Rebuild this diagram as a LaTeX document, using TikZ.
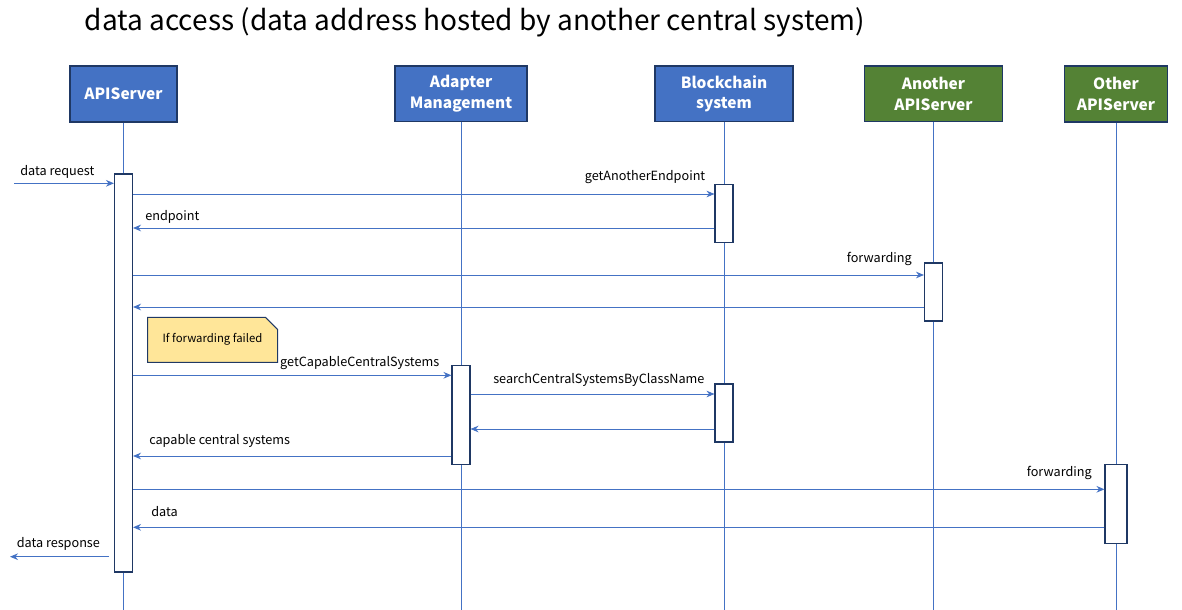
\documentclass[tikz,border=0pt]{standalone}
\usepackage{fontspec}
\setmainfont{Noto Sans CJK SC}
\usepackage{tikz}
\usetikzlibrary{arrows.meta}
\usetikzlibrary{shapes.misc}
\definecolor{hdrblue}{HTML}{4472C4}
\definecolor{hdrgreen}{HTML}{548235}
\definecolor{edgenavy}{HTML}{1F3864}
\definecolor{notefill}{HTML}{FFE699}
\tikzset{>={Stealth[length=6pt,width=5pt]}}
\tikzstyle{hdr} = [rectangle, draw = edgenavy, line width = 0.9pt, text = white, font = \bfseries\fontsize{11.6}{15.5}\selectfont, align = center, inner sep = 0]
\tikzstyle{life} = [-, draw = hdrblue, line width = 0.75pt]
\tikzstyle{act} = [rectangle, draw = edgenavy, fill = white, line width = 0.8pt, minimum width = 13.5pt, inner sep = 0]
\tikzstyle{msg} = [->, draw = hdrblue, fill = hdrblue, line width = 0.75pt]
\tikzstyle{lbl} = [draw = none, inner sep = 0, font = \fontsize{9.5}{11}\selectfont]
\tikzstyle{notebox} = [chamfered rectangle, chamfered rectangle corners = north east, chamfered rectangle xsep = 4.5pt, chamfered rectangle ysep = 4.5pt, draw = edgenavy, fill = notefill, line width = 0.75pt, inner sep = 0, font = \fontsize{8.5}{10}\selectfont]

\begin{document}
\begin{tikzpicture}[x = 0.75pt, y = -0.75pt]
\useasboundingbox (0, 0) rectangle (1182, 610);
\node [draw=none, inner sep = 0, font = \fontsize{21}{25}\selectfont] (title) at (475, 22) {data access (data address hosted by another central system)};
% participants
\node [hdr, fill = hdrblue, minimum width = 80.25pt, minimum height = 42pt] (hAPI) at (123.5, 94) {APIServer};
\node [hdr, fill = hdrblue, minimum width = 99pt, minimum height = 41.6pt] (hAM) at (461, 93.8) {Adapter\\Management};
\node [hdr, fill = hdrblue, minimum width = 103.5pt, minimum height = 41.6pt] (hBC) at (724, 93.8) {Blockchain\\system};
\node [hdr, fill = hdrgreen, minimum width = 103.5pt, minimum height = 41.6pt] (hAN) at (933.5, 93.8) {Another\\APIServer};
\node [hdr, fill = hdrgreen, minimum width = 77.25pt, minimum height = 42pt] (hOT) at (1116, 94) {Other\\APIServer};
\coordinate (bot) at (0, 610);
\draw [life] (hAPI.south) -- (hAPI.south |- bot);
\draw [life] (hAM.south) -- (hAM.south |- bot);
\draw [life] (hBC.south) -- (hBC.south |- bot);
\draw [life] (hAN.south) -- (hAN.south |- bot);
\draw [life] (hOT.south) -- (hOT.south |- bot);
% activations
\node [act, minimum height = 298.5pt] (aAPI) at (123.5, 373) {};
\node [act, minimum height = 43.5pt] (aBC1) at (724, 213.3) {};
\node [act, minimum height = 43.5pt] (aAN) at (933.5, 292) {};
\node [act, minimum height = 74pt] (aAM) at (461, 414.7) {};
\node [act, minimum height = 43.5pt] (aBC2) at (724, 413) {};
\node [act, minimum width = 16.5pt, minimum height = 59.25pt] (aOT) at (1116, 503.8) {};
% messages
\coordinate (drq) at (14, 183.3);
\coordinate (drs0) at (109, 556.7);
\coordinate (drs) at (10, 556.7);
\draw [msg] (drq) -- (aAPI.west |- drq);
\draw [msg] (aAPI.east |- 0,194) -- (aBC1.west |- 0,194);
\draw [msg] (aBC1.west |- 0,228) -- (aAPI.east |- 0,228);
\draw [msg] (aAPI.east |- 0,275) -- (aAN.west |- 0,275);
\draw [msg] (aAN.west |- 0,307) -- (aAPI.east |- 0,307);
\draw [msg] (aAPI.east |- 0,375.3) -- (aAM.west |- 0,375.3);
\draw [msg] (aAM.east |- 0,394) -- (aBC2.west |- 0,394);
\draw [msg] (aBC2.west |- 0,429) -- (aAM.east |- 0,429);
\draw [msg] (aAM.west |- 0,456) -- (aAPI.east |- 0,456);
\draw [msg] (aAPI.east |- 0,489.3) -- (aOT.west |- 0,489.3);
\draw [msg] (aOT.west |- 0,527.3) -- (aAPI.east |- 0,527.3);
\draw [msg] (drs0) -- (drs);
% labels
\node [lbl, anchor = west] (lDrq) at (20, 171.5) {data request};
\node [lbl, anchor = east] (lGAE) at (705.5, 177.3) {getAnotherEndpoint};
\node [lbl, anchor = west] (lEnd) at (145, 217) {endpoint};
\node [lbl, anchor = east] (lFw1) at (912, 259) {forwarding};
\node [lbl, anchor = east] (lGCC) at (439.5, 362.7) {getCapableCentralSystems};
\node [lbl, anchor = west] (lSCS) at (493, 380) {searchCentralSystemsByClassName};
\node [lbl, anchor = west] (lCCS) at (149, 441) {capable central systems};
\node [lbl, anchor = east] (lFw2) at (1092, 473.3) {forwarding};
\node [lbl, anchor = west] (lData) at (151, 511.7) {data};
\node [lbl, anchor = west] (lDrs) at (16.5, 544.3) {data response};
% note
\node [notebox, minimum width = 97.5pt, minimum height = 33.75pt] (nFail) at (212.5, 339.8) {If forwarding failed};
\end{tikzpicture}
\end{document}
